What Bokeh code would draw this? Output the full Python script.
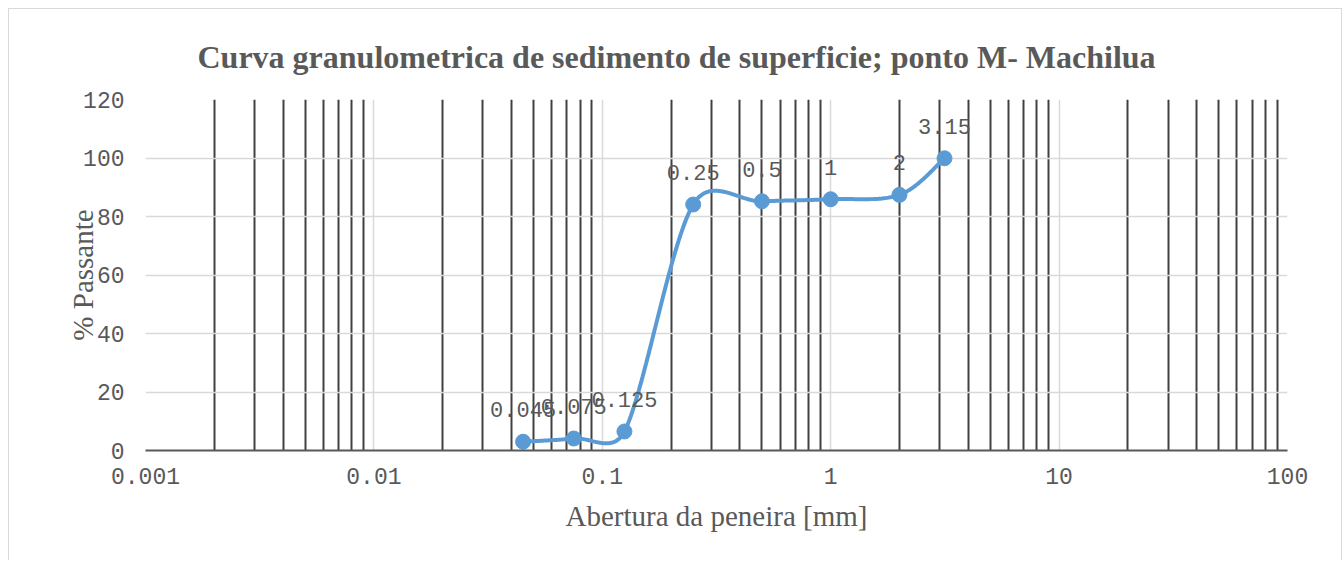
import numpy as np
from bokeh.plotting import figure
from bokeh.models import FixedTicker, ColumnDataSource
from bokeh.embed import file_html
from bokeh.resources import INLINE
from bokeh.core.properties import value

# ---- data ----
sieve_mm = [0.045, 0.075, 0.125, 0.25, 0.5, 1, 2, 3.15]
passing = [3.0, 4.1, 6.5, 84.1, 85.2, 85.9, 87.4, 99.9]
point_labels = ["0.045", "0.075", "0.125", "0.25", "0.5", "1", "2", "3.15"]
x_major = [0.001, 0.01, 0.1, 1, 10, 100]
x_major_labels = ["0.001", "0.01", "0.1", "1", "10", "100"]
y_major = [0, 20, 40, 60, 80, 100, 120]

title_text = "Curva granulometrica de sedimento de superficie; ponto M- Machilua"
x_title = "Abertura da peneira [mm]"
y_title = "% Passante"

# ---- layout ----
FW, FH = 1142, 351
X0, X1 = 0.001, 100
Y0, Y1 = 0, 120
sx = FW / (np.log10(X1) - np.log10(X0))
sy = FH / (Y1 - Y0)

x_minor = [m * d for d in x_major[:-1] for m in range(2, 10)]


def excel_smooth(xs, ys, n=40):
    P = np.column_stack([np.log10(xs) * sx, np.asarray(ys, float) * sy])
    out = []
    for i in range(len(P) - 1):
        p0 = P[i - 1] if i > 0 else P[i]
        p1, p2 = P[i], P[i + 1]
        p3 = P[i + 2] if i + 2 < len(P) else P[i + 1]
        half = np.linalg.norm(p2 - p1) / 2.0
        a1 = (p2 - p0) / 6.0
        a2 = (p3 - p1) / 6.0
        n1, n2 = np.linalg.norm(a1), np.linalg.norm(a2)
        if n1 > half:
            a1 = a1 * half / n1
        if n2 > half:
            a2 = a2 * half / n2
        c1 = p1 + a1
        c2 = p2 - a2
        t = np.linspace(0, 1, n)[:, None]
        seg = (1 - t) ** 3 * p1 + 3 * (1 - t) ** 2 * t * c1 + 3 * (1 - t) * t ** 2 * c2 + t ** 3 * p2
        out.append(seg if i == 0 else seg[1:])
    S = np.vstack(out)
    return 10 ** (S[:, 0] / sx), S[:, 1] / sy


cx, cy = excel_smooth(sieve_mm, passing)

p = figure(
    x_axis_type="log",
    x_range=(X0, X1),
    y_range=(Y0, Y1),
    frame_width=FW,
    frame_height=FH,
    min_border_left=136,
    min_border_right=54,
    min_border_top=90,
    min_border_bottom=110,
    output_backend="svg",
    toolbar_location=None,
    title=title_text,
)
p.styles = {"border-left": "1px solid #d9d9d9", "border-right": "1px solid #d9d9d9",
            "border-top": "1px solid #d9d9d9", "margin-left": "8px", "margin-top": "8px"}
p.outline_line_color = None
p.background_fill_color = "white"
p.border_fill_color = "white"

p.title.align = "left"
p.title.text_font = "Liberation Serif"
p.title.text_font_size = "32px"
p.title.text_font_style = "bold"
p.title.text_color = "#595959"
p.title.standoff = 50
p.title.offset = 52

xt = FixedTicker(ticks=x_major, minor_ticks=x_minor)
p.xaxis.ticker = xt
p.xgrid.ticker = xt
p.xaxis.major_label_overrides = {t: l for t, l in zip(x_major, x_major_labels)}
p.yaxis.ticker = FixedTicker(ticks=y_major)

p.xgrid.grid_line_color = "#d9d9d9"
p.xgrid.grid_line_width = 1.5
p.xgrid.minor_grid_line_color = "#404040"
p.xgrid.minor_grid_line_width = 2
p.ygrid.grid_line_color = "#d9d9d9"
p.ygrid.grid_line_width = 1.5

for ax in (p.xaxis, p.yaxis):
    ax.major_tick_line_color = None
    ax.minor_tick_line_color = None
    ax.major_label_text_font = "Liberation Mono"
    ax.major_label_text_font_size = "23px"
    ax.major_label_text_color = "#595959"
    ax.axis_label_text_font = "Liberation Serif"
    ax.axis_label_text_font_size = "29px"
    ax.axis_label_text_font_style = "normal"
    ax.axis_label_text_color = "#595959"

p.xaxis.axis_line_color = "#595959"
p.xaxis.axis_line_width = 2
p.yaxis.axis_line_color = None
p.xaxis.major_label_standoff = 11
p.yaxis.major_label_standoff = 15
p.xaxis.axis_label = x_title
p.yaxis.axis_label = y_title
p.xaxis.axis_label_standoff = 13
p.yaxis.axis_label_standoff = -19

p.line(cx, cy, line_color="#5B9BD5", line_width=4)
src = ColumnDataSource(dict(x=sieve_mm, y=passing, lab=point_labels))
p.scatter("x", "y", source=src, size=15, fill_color="#5B9BD5", line_color="#5B9BD5")
p.text("x", "y", text="lab", source=src, text_font=value("Liberation Mono"),
       text_font_size="22px", text_color="#595959", text_align="center",
       text_baseline="middle", y_offset=-32)

open("out.html", "w").write(file_html(p, INLINE))
